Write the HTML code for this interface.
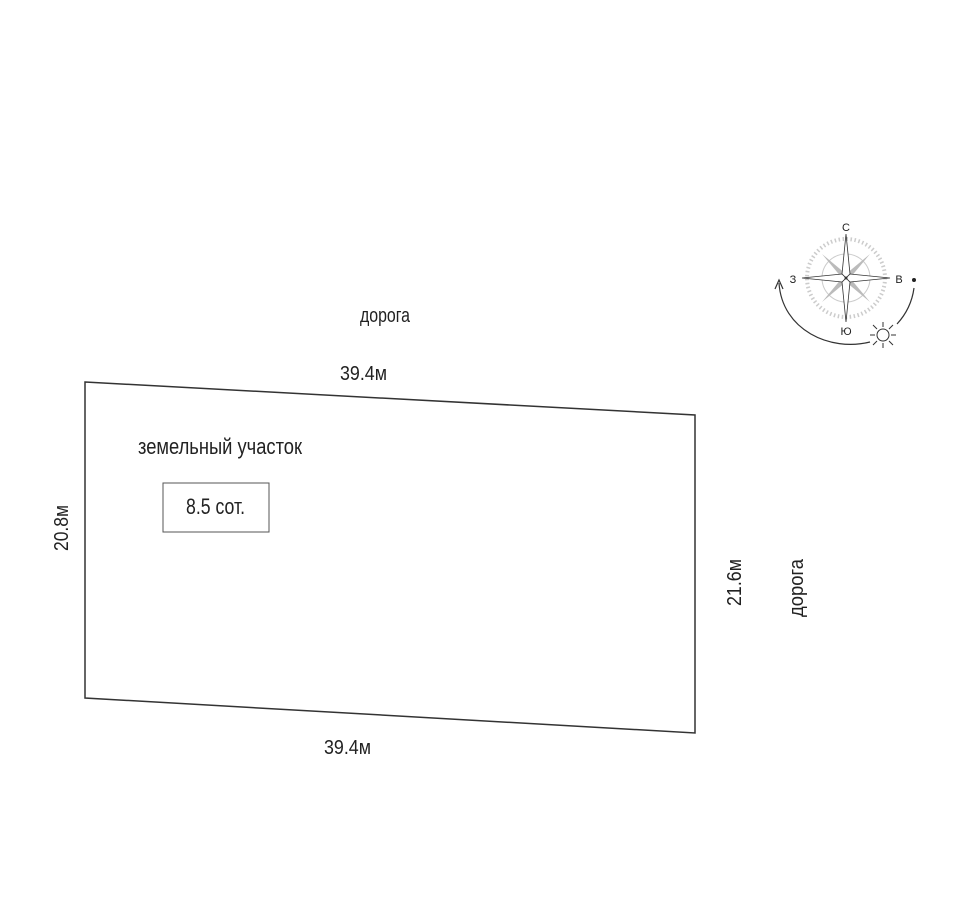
<!DOCTYPE html>
<html><head><meta charset="utf-8"><style>
html,body{margin:0;padding:0;background:#fff;width:960px;height:900px;overflow:hidden}
text{font-family:"Liberation Sans Narrow","Liberation Sans",sans-serif;fill:#222}
</style></head><body>
<svg width="960" height="900" viewBox="0 0 960 900" xmlns="http://www.w3.org/2000/svg">
<polygon points="85,382 695,415 695,733 85,698" fill="none" stroke="#333" stroke-width="1.5"/>
<rect x="163" y="483" width="106" height="49" fill="none" stroke="#555" stroke-width="1"/>
<text x="360" y="322" font-size="20" textLength="50" lengthAdjust="spacingAndGlyphs">дорога</text>
<text x="340" y="380" font-size="20" textLength="47" lengthAdjust="spacingAndGlyphs">39.4м</text>
<text x="138" y="454" font-size="22" textLength="164" lengthAdjust="spacingAndGlyphs">земельный участок</text>
<text x="186" y="514" font-size="22" textLength="59" lengthAdjust="spacingAndGlyphs">8.5 сот.</text>
<text x="324" y="754" font-size="20" textLength="47" lengthAdjust="spacingAndGlyphs">39.4м</text>
<text transform="translate(68,551) rotate(-90)" font-size="20" textLength="46" lengthAdjust="spacingAndGlyphs">20.8м</text>
<text transform="translate(741,606) rotate(-90)" font-size="20" textLength="47" lengthAdjust="spacingAndGlyphs">21.6м</text>
<text transform="translate(803,617) rotate(-90)" font-size="20" textLength="58" lengthAdjust="spacingAndGlyphs">дорога</text>
<g transform="translate(846,278)">
<circle r="39" fill="none" stroke="#ccc" stroke-width="4" stroke-dasharray="1.5 2.5"/>
<circle r="24" fill="none" stroke="#ccc" stroke-width="1"/>
<g fill="#bbb"><polygon points="-24,-24 -4,0 0,-4"/><polygon points="24,-24 4,0 0,-4"/><polygon points="-24,24 -4,0 0,4"/><polygon points="24,24 4,0 0,4"/></g>
<g fill="#fff" stroke="#333" stroke-width="0.8">
<polygon points="0,-44 4,-4 0,0 -4,-4"/><polygon points="0,44 4,4 0,0 -4,4"/>
<polygon points="-44,0 -4,-4 0,0 -4,4"/><polygon points="44,0 4,-4 0,0 4,4"/>
</g>
<circle r="1.5" fill="#333"/>
</g>
<text x="846" y="231" font-size="11" text-anchor="middle" fill="#555">С</text>
<text x="793" y="283" font-size="11" text-anchor="middle">З</text>
<text x="899" y="283" font-size="11" text-anchor="middle">В</text>
<text x="846" y="335" font-size="11" text-anchor="middle">Ю</text>
<circle cx="914" cy="280" r="2" fill="#222"/>
<path d="M914,288 A66,66 0 0 1 897,324" fill="none" stroke="#333" stroke-width="1.2"/>
<path d="M870,342 C830,352 782,330 779,283" fill="none" stroke="#333" stroke-width="1.2"/>
<path d="M775,289 L779,280 L783,289" fill="none" stroke="#333" stroke-width="1.2"/>
<g transform="translate(883,335)" stroke="#333" stroke-width="1">
<circle r="6" fill="none"/>
<g stroke-width="1"><line x1="8" y1="0" x2="13" y2="0"/><line x1="-8" y1="0" x2="-13" y2="0"/><line x1="0" y1="8" x2="0" y2="13"/><line x1="0" y1="-8" x2="0" y2="-13"/><line x1="6" y1="6" x2="10" y2="10"/><line x1="-6" y1="6" x2="-10" y2="10"/><line x1="6" y1="-6" x2="10" y2="-10"/><line x1="-6" y1="-6" x2="-10" y2="-10"/></g>
</g>
</svg>
</body></html>
